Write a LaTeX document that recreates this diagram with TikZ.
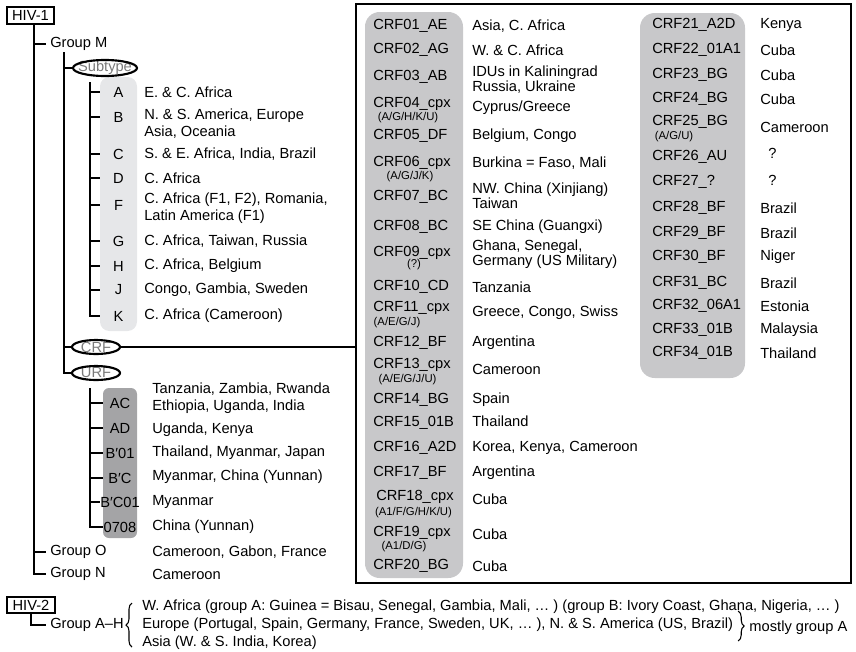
\documentclass[tikz,border=0pt]{standalone}
\usepackage{fontspec}
\setmainfont{Liberation Sans}
\usetikzlibrary{decorations.pathreplacing}
\definecolor{subgray}{HTML}{E6E7E9}
\definecolor{crfgray}{HTML}{C8C8CA}
\definecolor{urfgray}{HTML}{A4A4A6}
\definecolor{ovaltext}{HTML}{7A7A7A}
\tikzset{
  tree/.style={line width=1.5pt},
  hivbox/.style={draw, line width=1.3pt, inner xsep=4pt, inner ysep=2.4pt},
  grp/.style={anchor=west, inner sep=3pt},
  txt/.style={anchor=west, inner sep=0pt, align=left},
  crftxt/.style={anchor=west, inner sep=0pt, align=left, font=\fontsize{11}{11.25}\selectfont},
  mix/.style={inner sep=0pt, font=\fontsize{8.5}{9}\selectfont},
  letter/.style={minimum width=27.75pt, inner sep=0pt},
  urfletter/.style={minimum width=25.5pt, inner sep=0pt},
  oval/.style={minimum width=36pt, minimum height=10.5pt, inner sep=0pt, text=ovaltext},
  ovalline/.style={line width=1.6pt},
  brc/.style={decorate, decoration={brace, amplitude=4.5pt}, line width=0.8pt}
}
\begin{document}
\begin{tikzpicture}[x=0.75pt,y=-0.75pt,font=\fontsize{11}{12.75}\selectfont]
\useasboundingbox (0,0) rectangle (856,651);

\fill[subgray,rounded corners=7pt] (100,77) rectangle (137,331);
\fill[urfgray,rounded corners=4.5pt] (103,388) rectangle (137,538);
\fill[crfgray,rounded corners=11pt] (365,12) rectangle (463,578);
\fill[crfgray,rounded corners=11pt] (640,13) rectangle (745,378);

\node[hivbox] (hiv1) at (30.5,15.5) {HIV-1};
\node[grp] (gM) at (46,44) {Group M};
\node[grp] (gO) at (46,552) {Group O};
\node[grp] (gN) at (46,574) {Group N};
\node[txt] (gOd) at (152,552) {Cameroon, Gabon, France};
\node[txt] (gNd) at (152,574) {Cameroon};

\node[oval,minimum width=48pt,minimum height=12pt] (subt) at (105,68) {Subtype};
\node[oval] (crf) at (96,347) {CRF};
\node[oval] (urf) at (96,373) {URF};
\draw[ovalline] (subt.center) ellipse [x radius=24pt, y radius=6pt];
\draw[ovalline] (crf.center) ellipse [x radius=18pt, y radius=5.25pt];
\draw[ovalline] (urf.center) ellipse [x radius=18pt, y radius=5.25pt];

\node[letter] (sA) at (118.5,92) {A};  \node[txt] (sAd) at (144,92) {E. \& C. Africa};
\node[letter] (sB) at (118.5,117) {B}; \node[txt] (sBd) at (144,123.5) {N. \& S. America, Europe\\Asia, Oceania};
\node[letter] (sC) at (118.5,154) {C}; \node[txt] (sCd) at (144,154) {S. \& E. Africa, India, Brazil};
\node[letter] (sD) at (118.5,178) {D}; \node[txt] (sDd) at (144,178) {C. Africa};
\node[letter] (sF) at (118.5,205) {F}; \node[txt] (sFd) at (144,208.5) {C. Africa (F1, F2), Romania,\\Latin America (F1)};
\node[letter] (sG) at (118.5,241) {G}; \node[txt] (sGd) at (144,241) {C. Africa, Taiwan, Russia};
\node[letter] (sH) at (118.5,266) {H}; \node[txt] (sHd) at (144,266) {C. Africa, Belgium};
\node[letter] (sJ) at (118.5,290) {J}; \node[txt] (sJd) at (144,290) {Congo, Gambia, Sweden};
\node[letter] (sK) at (118.5,316) {K}; \node[txt] (sKd) at (144,316) {C. Africa (Cameroon)};

\node[urfletter] (u1) at (120,403) {AC};    \node[txt] (u1d) at (152,398.5) {Tanzania, Zambia, Rwanda\\Ethiopia, Uganda, India};
\node[urfletter] (u2) at (120,428) {AD};    \node[txt] (u2d) at (152,430) {Uganda, Kenya};
\node[urfletter] (u3) at (120,453) {B′01};  \node[txt] (u3d) at (152,453) {Thailand, Myanmar, Japan};
\node[urfletter] (u4) at (120,478) {B′C};   \node[txt] (u4d) at (152,477) {Myanmar, China (Yunnan)};
\node[urfletter] (u5) at (120,502) {B′C01}; \node[txt] (u5d) at (152,502) {Myanmar};
\node[urfletter] (u6) at (120,527) {0708};  \node[txt] (u6d) at (152,527) {China (Yunnan)};

\coordinate (trunk) at (34,24);
\coordinate (mline) at (64,52);
\coordinate (sline) at (90,82);
\coordinate (uline) at (90,388);
\draw[tree] (trunk) |- (gN.west);
\draw[tree] (gM.west -| trunk) -- (gM.west);
\draw[tree] (gO.west -| trunk) -- (gO.west);
\draw[tree] (mline) |- (urf.west);
\draw[tree] (subt.west -| mline) -- (subt.west);
\draw[tree] (crf.west -| mline) -- (crf.west);
\draw[tree] (sline) |- (sK.west);
\foreach \s in {sA,sB,sC,sD,sF,sG,sH,sJ}
  \draw[tree] (\s.west -| sline) -- (\s.west);
\draw[tree] (uline) |- (u6.west);
\foreach \u in {1,...,5}
  \draw[tree] (u\u.west -| uline) -- (u\u.west);

\node[draw,line width=1.3pt,minimum width=371.25pt,minimum height=434.25pt,inner sep=0pt] (crfbox) at (603.5,293.5) {};
\draw[tree] (crf.east) -- (crf.east -| crfbox.west);

\node[txt] (c01) at (373,26) {CRF01\_AE};   \node[txt] (c01d) at (472,26) {Asia, C. Africa};
\node[txt] (c02) at (373,50) {CRF02\_AG};   \node[txt] (c02d) at (472,50) {W. \& C. Africa};
\node[txt] (c03) at (373,77) {CRF03\_AB};   \node[crftxt] (c03d) at (472,79.5) {IDUs in Kaliningrad\\Russia, Ukraine};
\node[txt] (c04) at (373,104) {CRF04\_cpx}; \node[mix] (c04m) at (408,118) {(A/G/H/K/U)}; \node[txt] (c04d) at (472,108) {Cyprus/Greece};
\node[txt] (c05) at (373,136) {CRF05\_DF};   \node[txt] (c05d) at (472,136) {Belgium, Congo};
\node[txt] (c06) at (373,163) {CRF06\_cpx}; \node[mix] (c06m) at (410,177) {(A/G/J/K)}; \node[txt] (c06d) at (472,163) {Burkina = Faso, Mali};
\node[txt] (c07) at (373,197) {CRF07\_BC};   \node[crftxt] (c07d) at (472,195.5) {NW. China (Xinjiang)\\Taiwan};
\node[txt] (c08) at (373,227) {CRF08\_BC};   \node[txt] (c08d) at (472,227) {SE China (Guangxi)};
\node[txt] (c09) at (373,253) {CRF09\_cpx}; \node[mix] (c09m) at (414,265) {(?)}; \node[crftxt] (c09d) at (472,254.5) {Ghana, Senegal,\\Germany (US Military)};
\node[txt] (c10) at (373,287) {CRF10\_CD};   \node[txt] (c10d) at (472,287) {Tanzania};
\node[txt] (c11) at (373,308) {CRF11\_cpx}; \node[mix] (c11m) at (397,323) {(A/E/G/J)}; \node[txt] (c11d) at (472,313) {Greece, Congo, Swiss};
\node[txt] (c12) at (373,343) {CRF12\_BF};   \node[txt] (c12d) at (472,343) {Argentina};
\node[txt] (c13) at (373,365) {CRF13\_cpx}; \node[mix] (c13m) at (407.5,380) {(A/E/G/J/U)}; \node[txt] (c13d) at (472,369) {Cameroon};
\node[txt] (c14) at (373,400) {CRF14\_BG};   \node[txt] (c14d) at (472,400) {Spain};
\node[txt] (c15) at (373,423) {CRF15\_01B};  \node[txt] (c15d) at (472,421) {Thailand};
\node[txt] (c16) at (373,448) {CRF16\_A2D};  \node[txt] (c16d) at (472,448) {Korea, Kenya, Cameroon};
\node[txt] (c17) at (373,473) {CRF17\_BF};   \node[txt] (c17d) at (472,473) {Argentina};
\node[txt] (c18) at (376,497) {CRF18\_cpx}; \node[mix] (c18m) at (413.5,513) {(A1/F/G/H/K/U)}; \node[txt] (c18d) at (472,499) {Cuba};
\node[txt] (c19) at (373,533) {CRF19\_cpx}; \node[mix] (c19m) at (404,547) {(A1/D/G)}; \node[txt] (c19d) at (472,534) {Cuba};
\node[txt] (c20) at (373,566) {CRF20\_BG};   \node[txt] (c20d) at (472,566) {Cuba};

\node[txt] (c21) at (652,25) {CRF21\_A2D};  \node[txt] (c21d) at (760,25) {Kenya};
\node[txt] (c22) at (652,50) {CRF22\_01A1}; \node[txt] (c22d) at (760,50) {Cuba};
\node[txt] (c23) at (652,75) {CRF23\_BG};   \node[txt] (c23d) at (760,75) {Cuba};
\node[txt] (c24) at (652,99) {CRF24\_BG};   \node[txt] (c24d) at (760,99) {Cuba};
\node[txt] (c25) at (652,122) {CRF25\_BG};  \node[mix] (c25m) at (674,137) {(A/G/U)}; \node[txt] (c25d) at (760,127) {Cameroon};
\node[txt] (c26) at (652,157) {CRF26\_AU};  \node[txt] (c26d) at (768,153) {?};
\node[txt] (c27) at (652,182) {CRF27\_?};   \node[txt] (c27d) at (768,180) {?};
\node[txt] (c28) at (652,208) {CRF28\_BF};  \node[txt] (c28d) at (760,208) {Brazil};
\node[txt] (c29) at (652,233) {CRF29\_BF};  \node[txt] (c29d) at (760,233) {Brazil};
\node[txt] (c30) at (652,257) {CRF30\_BF};  \node[txt] (c30d) at (760,257) {Niger};
\node[txt] (c31) at (652,283) {CRF31\_BC};  \node[txt] (c31d) at (760,283) {Brazil};
\node[txt] (c32) at (652,306) {CRF32\_06A1}; \node[txt] (c32d) at (760,306) {Estonia};
\node[txt] (c33) at (652,330) {CRF33\_01B}; \node[txt] (c33d) at (760,330) {Malaysia};
\node[txt] (c34) at (652,353) {CRF34\_01B}; \node[txt] (c34d) at (760,353) {Thailand};

\node[hivbox] (hiv2) at (31,605) {HIV-2};
\node[grp] (gAH) at (46,625) {Group A–H};
\draw[tree] (hiv2.south) |- (gAH.west);
\node[txt] (l1) at (142,607) {W. Africa (group A: Guinea = Bisau, Senegal, Gambia, Mali, … ) (group B: Ivory Coast, Ghana, Nigeria, … )};
\node[txt] (l2) at (142,625) {Europe (Portugal, Spain, Germany, France, Sweden, UK, … ), N. \& S. America (US, Brazil)};
\node[txt] (l3) at (142,642.5) {Asia (W. \& S. India, Korea)};
\draw[brc] ([shift={(-10,22)}]l2.west) -- ([shift={(-10,-22)}]l2.west);
\draw[brc] ([shift={(5,-14)}]l2.east) -- ([shift={(5,16)}]l2.east);
\node[txt] (most) at ([shift={(16,3)}]l2.east) {mostly group A};
\end{tikzpicture}
\end{document}
